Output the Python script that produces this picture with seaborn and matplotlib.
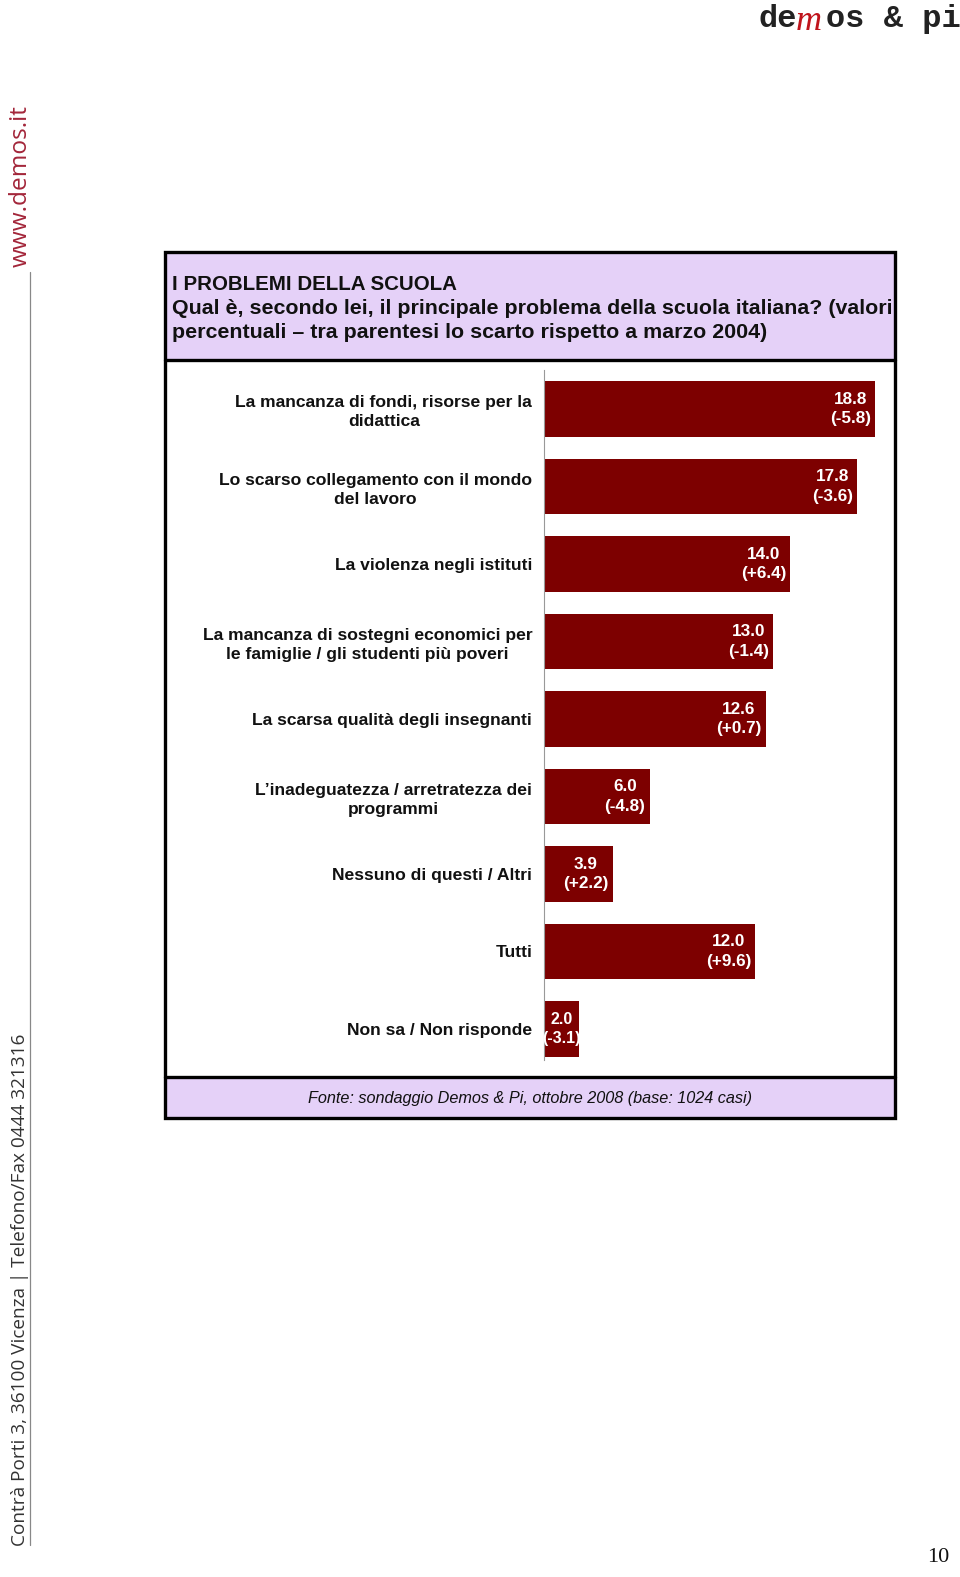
import matplotlib
matplotlib.use("Agg")
import matplotlib.pyplot as plt
import seaborn as sns
import pandas as pd
from matplotlib.patches import Rectangle
from matplotlib.lines import Line2D

categories = [
    "La mancanza di fondi, risorse per la\ndidattica",
    "Lo scarso collegamento con il mondo\ndel lavoro",
    "La violenza negli istituti",
    "La mancanza di sostegni economici per\nle famiglie / gli studenti più poveri",
    "La scarsa qualità degli insegnanti",
    "L\u2019inadeguatezza / arretratezza dei\nprogrammi",
    "Nessuno di questi / Altri",
    "Tutti",
    "Non sa / Non risponde",
]
values = [18.8, 17.8, 14.0, 13.0, 12.6, 6.0, 3.9, 12.0, 2.0]
changes = ["-5.8", "-3.6", "+6.4", "-1.4", "+0.7", "-4.8", "+2.2", "+9.6", "-3.1"]

title_lines = [
    "I PROBLEMI DELLA SCUOLA",
    "Qual è, secondo lei, il principale problema della scuola italiana? (valori",
    "percentuali \u2013 tra parentesi lo scarto rispetto a marzo 2004)",
]
footer = "Fonte: sondaggio Demos & Pi, ottobre 2008 (base: 1024 casi)"

W, H = 960, 1577
sns.set_theme(style="white")
plt.rcParams['font.family'] = ['Liberation Sans', 'DejaVu Sans']

fig = plt.figure(figsize=(W / 100, H / 100), dpi=100)

def fx(x):
    return x / W

def fy(y):
    return 1 - y / H

LAV = "#E5D1F8"
BAR = "#7D0000"

# boxes
fig.add_artist(Rectangle((fx(165), fy(360)), fx(895) - fx(165), fy(252) - fy(360),
                         transform=fig.transFigure, facecolor=LAV, edgecolor="none", zorder=0))
fig.add_artist(Rectangle((fx(165), fy(1118)), fx(895) - fx(165), fy(1077) - fy(1118),
                         transform=fig.transFigure, facecolor=LAV, edgecolor="none", zorder=0))
fig.add_artist(Rectangle((fx(165), fy(1118)), fx(895) - fx(165), fy(252) - fy(1118),
                         transform=fig.transFigure, facecolor="none", edgecolor="black",
                         linewidth=2.4, zorder=5))
for yy in (360, 1077):
    fig.add_artist(Line2D([fx(165), fx(895)], [fy(yy), fy(yy)], transform=fig.transFigure,
                          color="black", linewidth=2.4, zorder=5))

# title
title_sizes = [14.8, 15.4, 15.4]
for i, line in enumerate(title_lines):
    fig.text(fx(172), fy(285 + i * 23.5), line, ha="left", va="center",
             fontsize=title_sizes[i], fontweight="bold", color="#111111")

fig.text(fx(530), fy(1098), footer, ha="center", va="center", fontsize=11.7,
         fontstyle="italic", color="#111111")

# bar chart
ax = fig.add_axes([fx(544), fy(1060), fx(890) - fx(544), fy(370) - fy(1060)])
df = pd.DataFrame({"cat": categories, "val": values})
sns.barplot(data=df, x="val", y="cat", orient="h", color=BAR, width=0.72,
            saturation=1, ax=ax, edgecolor="none")
scale_px = 17.6
ax.set_xlim(0, 346 / scale_px)
ax.set_ylim(8.4, -0.503)
ax.set_xlabel("")
ax.set_ylabel("")
ax.set_xticks([])
for s in ("top", "right", "bottom"):
    ax.spines[s].set_visible(False)
ax.spines["left"].set_color("#999999")
ax.spines["left"].set_linewidth(0.8)
ax.tick_params(axis="y", length=0, pad=8.5)
ax.set_yticks(range(len(categories)))
ax.set_yticklabels(categories, fontsize=12.6, fontweight="bold", color="#111111",
                   multialignment="center", linespacing=1.3)

for i, (v, c) in enumerate(zip(values, changes)):
    txt = f"{v:.1f}\n({c})"
    if v * scale_px < 55:
        ax.text(v / 2, i, txt, ha="center", va="center", multialignment="center",
                color="white", fontsize=11.5, fontweight="bold", linespacing=1.4)
    else:
        ax.annotate(txt, xy=(v, i), xytext=(-3, 0), textcoords="offset points",
                    ha="right", va="center", multialignment="center", color="white",
                    fontsize=12.3, fontweight="bold", linespacing=1.35)

# side decorations
fig.add_artist(Line2D([fx(30), fx(30)], [fy(272), fy(1545)], transform=fig.transFigure,
                      color="#888888", linewidth=0.9))
fig.text(fx(21), fy(186), "www.demos.it", rotation=90, ha="center", va="center",
         fontsize=17.6, color="#A3263A", family="Open Sans")
fig.text(fx(20), fy(1290), "Contrà Porti 3, 36100 Vicenza | Telefono/Fax 0444 321316",
         rotation=90, ha="center", va="center", fontsize=13.7, color="#333333", family="Open Sans")

# logo
fig.text(fx(758), fy(19), "de", ha="left", va="center", fontsize=23, fontweight="bold",
         family="Liberation Mono", color="#222222")
fig.text(fx(796), fy(22), "m", ha="left", va="center", fontsize=26, fontstyle="italic",
         family="Liberation Serif", color="#C0141C")
fig.text(fx(826), fy(19), "os & pi", ha="left", va="center", fontsize=23, fontweight="bold",
         family="Liberation Mono", color="#222222")

fig.text(fx(938), fy(1557), "10", ha="center", va="center", fontsize=16,
         family="Liberation Serif", color="#111111")

fig.savefig("out.png", dpi=100)
